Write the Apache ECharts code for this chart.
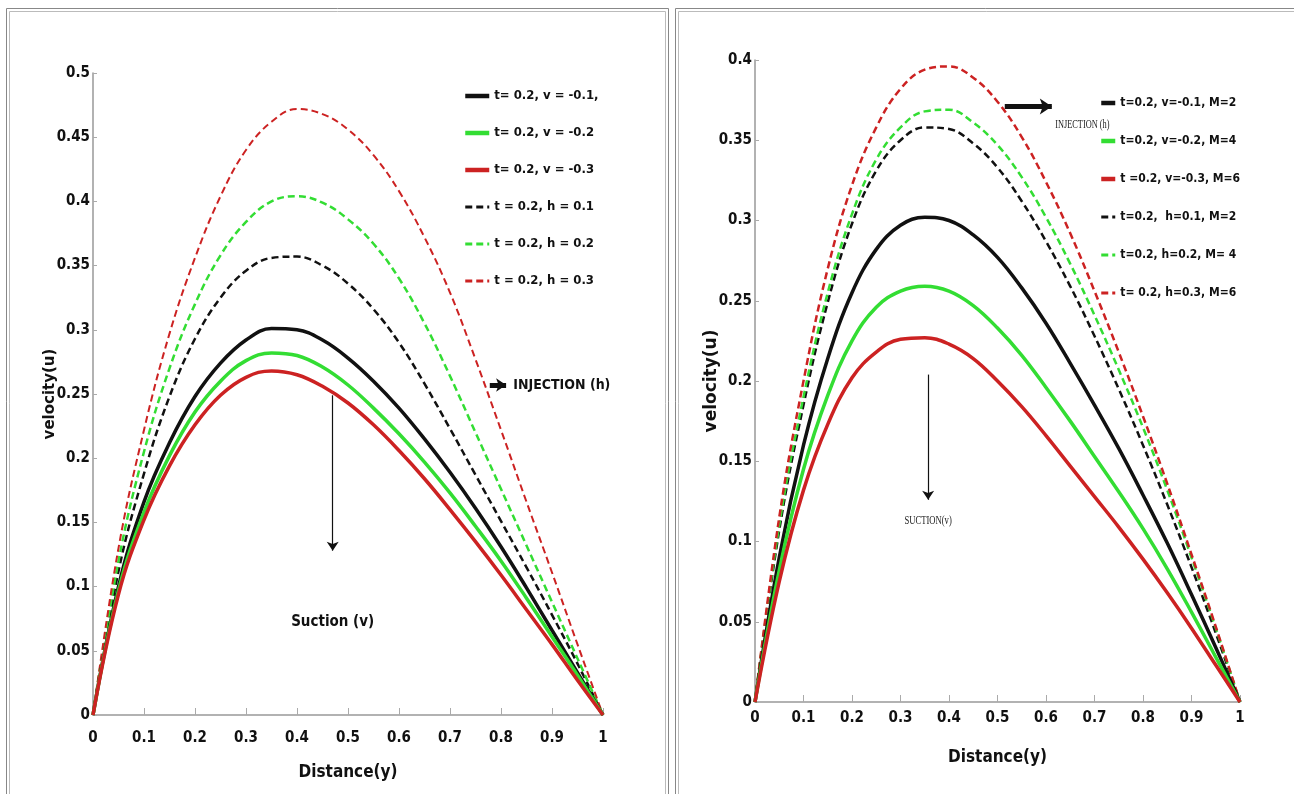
<!DOCTYPE html>
<html>
<head>
<meta charset="utf-8">
<script src="https://cdn.jsdelivr.net/npm/echarts@6/dist/echarts.min.js"></script>
<style>
html, body { margin: 0; padding: 0; background: #fff; }
#main { width: 1294px; height: 794px; }
</style>
</head>
<body>
<div id="main"></div>
<script>
// distance (y) sample points, shared by all curves
const distance = [0, 0.05, 0.1, 0.15, 0.2, 0.25, 0.3, 0.35, 0.4, 0.45, 0.5,
  0.55, 0.6, 0.65, 0.7, 0.75, 0.8, 0.85, 0.9, 0.95, 1];

// left panel : suction (v) / injection (h)
const leftNames = ['t= 0.2, v = -0.1,', 't= 0.2, v = -0.2', 't= 0.2, v = -0.3',
  't = 0.2, h = 0.1', 't = 0.2, h = 0.2', 't = 0.2, h = 0.3'];
const leftV1 = [0, 0.1, 0.166, 0.212, 0.248, 0.274, 0.292, 0.301, 0.3, 0.292, 0.278,
  0.26, 0.239, 0.215, 0.189, 0.161, 0.131, 0.099, 0.066, 0.033, 0];
const leftV2 = [0, 0.097, 0.158, 0.202, 0.236, 0.26, 0.276, 0.282, 0.28, 0.271, 0.257,
  0.239, 0.219, 0.197, 0.173, 0.147, 0.12, 0.091, 0.061, 0.031, 0];
const leftV3 = [0, 0.094, 0.152, 0.194, 0.226, 0.249, 0.263, 0.268, 0.265, 0.256, 0.243,
  0.226, 0.206, 0.184, 0.16, 0.135, 0.109, 0.082, 0.055, 0.027, 0];
const leftH1 = [0, 0.112, 0.188, 0.248, 0.293, 0.325, 0.346, 0.356, 0.357, 0.35, 0.336,
  0.316, 0.29, 0.258, 0.223, 0.187, 0.151, 0.115, 0.078, 0.04, 0];
const leftH2 = [0, 0.12, 0.205, 0.27, 0.32, 0.358, 0.384, 0.4, 0.404, 0.399, 0.386,
  0.367, 0.34, 0.305, 0.264, 0.22, 0.176, 0.132, 0.088, 0.044, 0];
const leftH3 = [0, 0.13, 0.222, 0.297, 0.356, 0.404, 0.44, 0.462, 0.472, 0.468, 0.456,
  0.436, 0.408, 0.372, 0.329, 0.277, 0.222, 0.166, 0.111, 0.055, 0];

// right panel : same with magnetic parameter M
const rightNames = ['t=0.2, v=-0.1, M=2', 't=0.2, v=-0.2, M=4', 't =0.2, v=-0.3, M=6',
  't=0.2,  h=0.1, M=2', 't=0.2, h=0.2, M= 4', 't= 0.2, h=0.3, M=6'];
const rightV1 = [0, 0.09, 0.16, 0.214, 0.255, 0.282, 0.297, 0.302, 0.3, 0.291, 0.277,
  0.258, 0.236, 0.211, 0.185, 0.158, 0.129, 0.099, 0.067, 0.034, 0];
const rightV2 = [0, 0.082, 0.145, 0.191, 0.225, 0.246, 0.256, 0.259, 0.256, 0.247, 0.233,
  0.216, 0.196, 0.175, 0.153, 0.131, 0.108, 0.083, 0.056, 0.028, 0];
const rightV3 = [0, 0.075, 0.132, 0.173, 0.202, 0.218, 0.226, 0.227, 0.223, 0.214, 0.2,
  0.184, 0.166, 0.147, 0.128, 0.109, 0.089, 0.068, 0.046, 0.023, 0];
const rightH1 = [0, 0.107, 0.185, 0.249, 0.298, 0.331, 0.35, 0.358, 0.357, 0.348, 0.333,
  0.312, 0.287, 0.259, 0.228, 0.195, 0.16, 0.123, 0.084, 0.043, 0];
const rightH2 = [0, 0.11, 0.19, 0.255, 0.304, 0.338, 0.358, 0.368, 0.369, 0.361, 0.347,
  0.327, 0.302, 0.273, 0.241, 0.207, 0.171, 0.132, 0.09, 0.046, 0];
const rightH3 = [0, 0.115, 0.2, 0.27, 0.322, 0.358, 0.382, 0.394, 0.396, 0.389, 0.374,
  0.352, 0.324, 0.292, 0.256, 0.218, 0.178, 0.136, 0.092, 0.047, 0];

const BLACK = '#111111', GREEN = '#33dd33', RED = '#cc2222';
const NARROW = "'Liberation Sans Narrow', 'DejaVu Sans Condensed', sans-serif";

const pairs = (vals) => distance.map((d, i) => [d, vals[i]]);

function curve(name, vals, grid, color, dashed, width) {
  return {
    name: name,
    type: 'line',
    xAxisIndex: grid,
    yAxisIndex: grid,
    data: pairs(vals),
    smooth: 0.4,
    symbol: 'none',
    lineStyle: { color: color, width: width, type: dashed ? [7, 4] : 'solid' },
    itemStyle: { color: color },
    z: dashed ? 3 : 4
  };
}

function xAxisCfg(grid, margin, gap) {
  return {
    type: 'value', gridIndex: grid, min: 0, max: 1, interval: 0.1,
    name: 'Distance(y)', nameLocation: 'middle', nameGap: gap, nameMoveOverlap: false,
    nameTextStyle: { fontFamily: NARROW, fontWeight: 'bold', fontSize: 17, color: '#111' },
    axisLine: { lineStyle: { color: '#999', width: 1.5 } },
    axisTick: { inside: true, length: 7, lineStyle: { color: '#aaa' } },
    axisLabel: { margin: margin, fontFamily: NARROW, fontWeight: 'bold', fontSize: 15, color: '#111',
      formatter: (v) => String(+v.toFixed(1)) },
    splitLine: { show: false }
  };
}

function yAxisCfg(grid, max, gap, nameSize) {
  return {
    type: 'value', gridIndex: grid, min: 0, max: max, interval: 0.05,
    name: 'velocity(u)', nameLocation: 'middle', nameGap: gap, nameRotate: 90, nameMoveOverlap: false,
    nameTextStyle: { fontFamily: 'DejaVu Sans', fontWeight: 'bold', fontSize: nameSize, color: '#111' },
    axisLine: { show: true, lineStyle: { color: '#999', width: 1.5 } },
    axisTick: { show: true, inside: true, length: 4, lineStyle: { color: '#aaa' } },
    axisLabel: { margin: 3, fontFamily: NARROW, fontWeight: 'bold', fontSize: 15, color: '#111',
      formatter: (v) => String(+v.toFixed(2)) },
    splitLine: { show: false }
  };
}

const series = [
  curve(leftNames[0], leftV1, 0, BLACK, false, 3.5),
  curve(leftNames[1], leftV2, 0, GREEN, false, 3.5),
  curve(leftNames[2], leftV3, 0, RED, false, 3.5),
  curve(leftNames[3], leftH1, 0, BLACK, true, 2.5),
  curve(leftNames[4], leftH2, 0, GREEN, true, 2.5),
  curve(leftNames[5], leftH3, 0, RED, true, 2),
  curve(rightNames[0], rightV1, 1, BLACK, false, 3.5),
  curve(rightNames[1], rightV2, 1, GREEN, false, 3.5),
  curve(rightNames[2], rightV3, 1, RED, false, 3.5),
  curve(rightNames[3], rightH1, 1, BLACK, true, 2.5),
  curve(rightNames[4], rightH2, 1, GREEN, true, 2.5),
  curve(rightNames[5], rightH3, 1, RED, true, 2.5)
];

// annotation arrows, in data units
series[0].markLine = {
  silent: true, animation: false,
  symbol: ['none', 'arrow'], symbolSize: 9,
  label: { show: false },
  lineStyle: { color: '#111', width: 1.2, type: 'solid' },
  data: [
    [{ coord: [0.47, 0.249] }, { coord: [0.47, 0.128] }],
    [{ coord: [0.778, 0.257], lineStyle: { width: 5 } }, { coord: [0.81, 0.257], symbolSize: 10 }]
  ]
};
series[6].markLine = {
  silent: true, animation: false,
  symbol: ['none', 'arrow'], symbolSize: 9,
  label: { show: false },
  lineStyle: { color: '#111', width: 1.2, type: 'solid' },
  data: [
    [{ coord: [0.357, 0.204] }, { coord: [0.357, 0.126] }],
    [{ coord: [0.515, 0.371], lineStyle: { width: 5 } }, { coord: [0.612, 0.371], symbolSize: 12 }]
  ]
};

// legend entries with thicker line samples, like the original figure
const legendItems = (names) => names.map((n, i) => ({
  name: n, lineStyle: { width: i < 3 ? 4.5 : 3.2 }
}));

const legendBase = {
  orient: 'vertical', selectedMode: false, itemHeight: 14, padding: 0,
  itemStyle: { opacity: 0 } // keep only the line sample, no marker
};

const option = {
  animation: false,
  backgroundColor: '#fff',
  grid: [
    { left: 93, right: 691, top: 73, bottom: 79 },
    { left: 755, right: 54, top: 60, bottom: 92 }
  ],
  xAxis: [xAxisCfg(0, 16, 49), xAxisCfg(1, 9, 47)],
  yAxis: [yAxisCfg(0, 0.5, 35, 15), yAxisCfg(1, 0.4, 35, 17)],
  legend: [
    Object.assign({}, legendBase, { data: legendItems(leftNames), left: 463, top: 87, itemWidth: 24, itemGap: 19,
      textStyle: { fontFamily: NARROW, fontWeight: 'bold', fontSize: 13, color: '#111', lineHeight: 18 } }),
    Object.assign({}, legendBase, { data: legendItems(rightNames), left: 1099, top: 94, itemWidth: 14, itemGap: 20,
      textStyle: { fontFamily: NARROW, fontWeight: 'bold', fontSize: 12, color: '#111', lineHeight: 18 } })
  ],
  series: series
};

const chart = echarts.init(document.getElementById('main'));
chart.setOption(option);

const px = (g, x, y) => chart.convertToPixel({ gridIndex: g }, [x, y]);
const p1 = px(0, 0.47, 0.072);
const p2 = px(0, 0.824, 0.257);
const p3 = px(1, 0.619, 0.36);
const p4 = px(1, 0.357, 0.113);

chart.setOption({
  graphic: [
    { type: 'rect', shape: { x: 6.5, y: 8.5, width: 662, height: 800 }, style: { fill: 'none', stroke: '#888', lineWidth: 1 }, silent: true },
    { type: 'rect', shape: { x: 9.5, y: 11.5, width: 656, height: 800 }, style: { fill: 'none', stroke: '#bbb', lineWidth: 1 }, silent: true },
    { type: 'rect', shape: { x: 675.5, y: 8.5, width: 640, height: 800 }, style: { fill: 'none', stroke: '#888', lineWidth: 1 }, silent: true },
    { type: 'rect', shape: { x: 678.5, y: 11.5, width: 640, height: 800 }, style: { fill: 'none', stroke: '#bbb', lineWidth: 1 }, silent: true },
    { type: 'text', x: p1[0], y: p1[1], style: { text: 'Suction (v)', fill: '#111',
      font: "bold 15px " + NARROW, textAlign: 'center', textVerticalAlign: 'middle' } },
    { type: 'text', x: p2[0], y: p2[1], style: { text: 'INJECTION (h)', fill: '#111',
      font: "bold 14px " + NARROW, textAlign: 'left', textVerticalAlign: 'middle' } },
    { type: 'text', x: p3[0], y: p3[1], scaleX: 0.64, style: { text: 'INJECTION (h)', fill: '#222',
      font: "13px 'Liberation Serif', serif", textAlign: 'left', textVerticalAlign: 'middle' } },
    { type: 'text', x: p4[0], y: p4[1], scaleX: 0.66, style: { text: 'SUCTION(v)', fill: '#222',
      font: "13px 'Liberation Serif', serif", textAlign: 'center', textVerticalAlign: 'middle' } }
  ]
});
</script>
</body>
</html>
